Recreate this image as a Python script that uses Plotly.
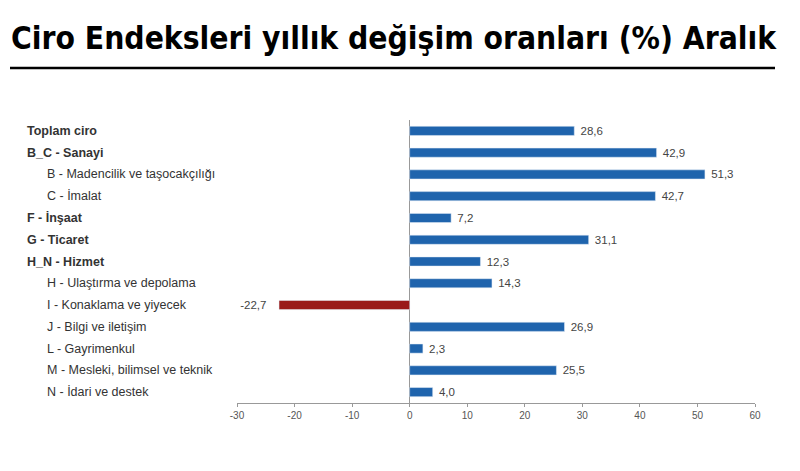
import plotly.graph_objects as go

categories = [
    "Toplam ciro",
    "B_C - Sanayi",
    "B - Madencilik ve taşocakçılığı",
    "C - İmalat",
    "F - İnşaat",
    "G - Ticaret",
    "H_N - Hizmet",
    "H - Ulaştırma ve depolama",
    "I - Konaklama ve yiyecek",
    "J - Bilgi ve iletişim",
    "L - Gayrimenkul",
    "M - Mesleki, bilimsel ve teknik",
    "N - İdari ve destek",
]
values = [28.6, 42.9, 51.3, 42.7, 7.2, 31.1, 12.3, 14.3, -22.7, 26.9, 2.3, 25.5, 4.0]
is_main = [True, True, False, False, True, True, True, False, False, False, False, False, False]
tick_vals = [-30, -20, -10, 0, 10, 20, 30, 40, 50, 60]

title = "Ciro Endeksleri yıllık değişim oranları (%) Aralık"

BLUE = "#1f64ad"
RED = "#9a1a1a"

colors = [RED if v < 0 else BLUE for v in values]
labels = [
    (f" {v:.1f}" if v >= 0 else f"{v:.1f}   ").replace(".", ",") for v in values
]

# page body has an 8px default margin, so the figure is drawn 8px smaller
W, H = 792, 463
L, R, T, B = 229, 45, 112, 68
plot_w = W - L - R
plot_h = H - T - B

fig = go.Figure()
fig.add_trace(
    go.Bar(
        x=values,
        y=categories,
        orientation="h",
        marker_color=colors,
        width=0.42,
        text=labels,
        textposition="outside",
        constraintext="none",
        textfont=dict(size=11.5, color="#444444", family="Liberation Sans"),
        cliponaxis=False,
    )
)

# left-aligned category labels, sub-items indented
for cat, main in zip(categories, is_main):
    fig.add_annotation(
        x=-0.41 if main else -0.371,
        xref="paper",
        y=cat,
        yref="y",
        text=f"<b>{cat}</b>" if main else cat,
        showarrow=False,
        xanchor="left",
        font=dict(size=12.5, color="#333333", family="Liberation Sans"),
    )

# title and its underline
fig.add_annotation(
    x=(W / 2 - L - 10) / plot_w,
    xref="paper",
    xanchor="center",
    y=(H - B - 30) / plot_h,
    yref="paper",
    yanchor="middle",
    text=f"<b>{title}</b>",
    showarrow=False,
    font=dict(size=31.5, color="black", family="DejaVu Sans Condensed"),
)
fig.add_shape(type="line", xref="paper", yref="paper",
              x0=(2 - L) / plot_w, x1=(767 - L) / plot_w,
              y0=(H - B - 60) / plot_h, y1=(H - B - 60) / plot_h,
              line=dict(color="black", width=2.5))

fig.update_layout(
    width=W,
    height=H,
    margin=dict(l=L, r=R, t=T, b=B),
    plot_bgcolor="white",
    paper_bgcolor="white",
    showlegend=False,
    font=dict(family="Liberation Sans", color="#555555"),
)
fig.update_xaxes(
    range=[-30, 60],
    tickvals=tick_vals,
    ticktext=[str(v) for v in tick_vals],
    tickfont=dict(size=10, color="#555555"),
    showgrid=False,
    zeroline=True,
    zerolinecolor="#999999",
    zerolinewidth=1,
    showline=True,
    linecolor="#999999",
    ticks="outside",
    ticklen=3,
    tickcolor="#999999",
)
fig.update_yaxes(
    autorange="reversed",
    showticklabels=False,
    showgrid=False,
    zeroline=False,
)

fig.write_html("out.html")
